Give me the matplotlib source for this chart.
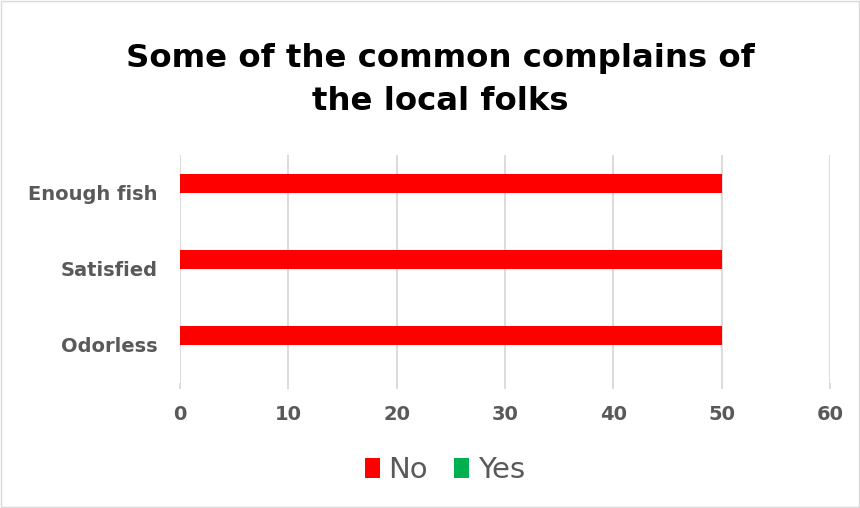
import matplotlib
matplotlib.use("Agg")
import matplotlib.pyplot as plt
import numpy as np

categories = ["Odorless", "Satisfied", "Enough fish"]
no_values = [50, 50, 50]
yes_values = [0, 0, 0]
x_ticks = [0, 10, 20, 30, 40, 50, 60]

RED = "#FF0000"
GREEN = "#00B050"
GRAY = "#595959"

plt.rcParams["font.family"] = ["DejaVu Sans"]

fig = plt.figure(figsize=(8.6, 5.08), dpi=100)
ax = fig.add_axes([180 / 860, 1 - 383 / 508, 650 / 860, 228 / 508])

y = np.arange(len(categories))
h = 0.25
ax.barh(y - h / 2, yes_values, height=h, color=GREEN, label="Yes", zorder=3)
ax.barh(y + h / 2, no_values, height=h, color=RED, label="No", zorder=3)

ax.set_xlim(0, 60)
ax.set_ylim(-0.5, len(categories) - 0.5)
ax.set_xticks(x_ticks)
ax.set_yticks(y)
ax.set_yticklabels(categories)
ax.grid(axis="x", color="#D9D9D9", linewidth=1.3, zorder=0)
for s in ax.spines.values():
    s.set_visible(False)
ax.tick_params(axis="y", length=0, pad=16, labelsize=14, labelcolor=GRAY)
ax.tick_params(axis="x", length=4, color="#D9D9D9", width=1.3, pad=12,
               labelsize=14, labelcolor=GRAY)
for lbl in ax.get_xticklabels() + ax.get_yticklabels():
    lbl.set_fontweight("bold")

fig.text(0.512, 1 - 80 / 508, "Some of the common complains of\nthe local folks",
         ha="center", va="center", fontsize=23.3, fontweight="bold",
         color="black", linespacing=1.5)

handles, labels = ax.get_legend_handles_labels()
leg = fig.legend(handles[::-1], labels[::-1], loc="center",
                 bbox_to_anchor=(445 / 860, 1 - 470 / 508), ncol=2,
                 frameon=False, fontsize=21, handlelength=0.5,
                 handleheight=0.7, handletextpad=0.3, columnspacing=0.9)
for t in leg.get_texts():
    t.set_color(GRAY)

fig.add_artist(plt.Rectangle((0.001, 0.001), 0.998, 0.998, fill=False,
                             edgecolor="#D9D9D9", linewidth=1,
                             transform=fig.transFigure))

fig.savefig("out.png", dpi=100)
